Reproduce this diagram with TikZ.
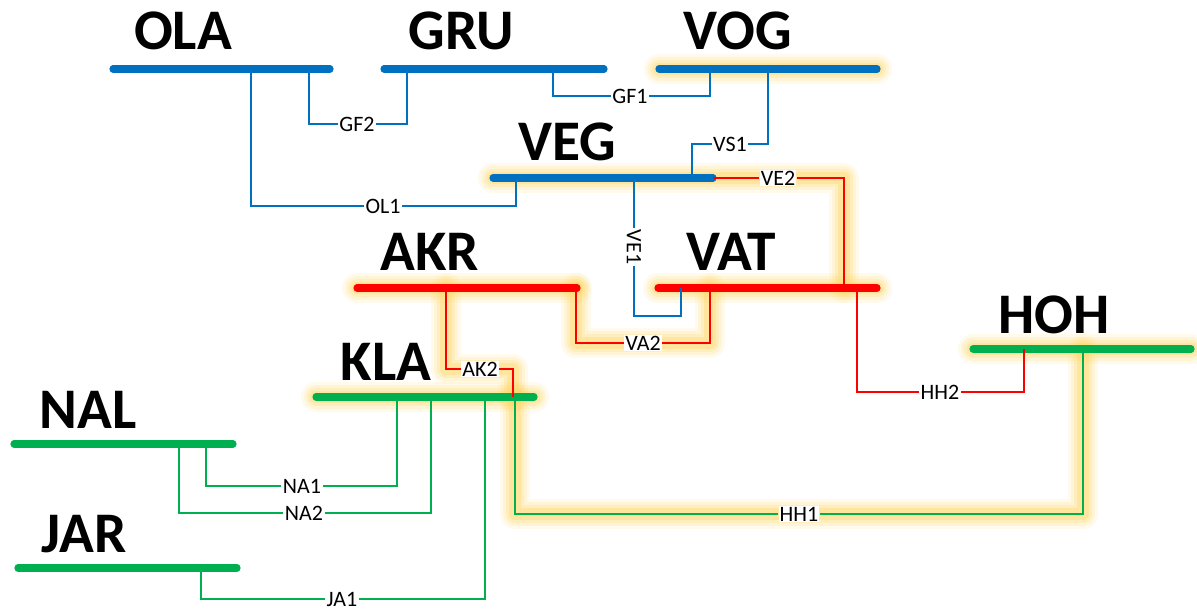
\documentclass[tikz,border=0pt]{standalone}
\usepackage{fontspec}
\setmainfont{Carlito}
\usetikzlibrary{backgrounds}
\definecolor{busblue}{RGB}{0,112,192}
\definecolor{busred}{RGB}{255,0,0}
\definecolor{busgreen}{RGB}{0,176,80}
\definecolor{glowyellow}{RGB}{255,214,100}

\begin{document}
\begin{tikzpicture}[
    x=0.5pt, y=-0.5pt,
    bus/.style={line width=3.6pt, line cap=round},
    link/.style={line width=1.15pt},
    busname/.style={font=\fontsize{28.7}{30}\selectfont\bfseries, anchor=base, inner sep=0pt},
    tag/.style={font=\fontsize{11}{12}\selectfont, fill=white, inner sep=0.6pt},
    glow/.style={line cap=round, line join=round, draw=glowyellow, draw opacity=0.35, line width=6pt,
      preaction={draw=glowyellow, draw opacity=0.12, line width=15pt, line cap=round, line join=round},
      preaction={draw=glowyellow, draw opacity=0.16, line width=12pt, line cap=round, line join=round},
      preaction={draw=glowyellow, draw opacity=0.22, line width=9pt, line cap=round, line join=round}}
]
\useasboundingbox (0,0) rectangle (1197,610);

\node[busname] (ola) at (183,50) {OLA};
\node[busname] (gru) at (461,50) {GRU};
\node[busname] (vog) at (738,50) {VOG};
\node[busname] (veg) at (567,160) {VEG};
\node[busname] (akr) at (430,270) {AKR};
\node[busname] (vat) at (731,270) {VAT};
\node[busname] (hoh) at (1054,333) {HOH};
\node[busname] (kla) at (386,380) {KLA};
\node[busname] (nal) at (88,428) {NAL};
\node[busname] (jar) at (84,552) {JAR};

\draw[bus, busblue] (113,69) coordinate (ola-w) -- (330,69) coordinate (ola-e);
\draw[bus, busblue] (384,69) coordinate (gru-w) -- (604,69) coordinate (gru-e);
\draw[bus, busblue] (659,69) coordinate (vog-w) -- (877,69) coordinate (vog-e);
\draw[bus, busblue] (493,178) coordinate (veg-w) -- (713,178) coordinate (veg-e);
\draw[bus, busred] (357,288) coordinate (akr-w) -- (577,288) coordinate (akr-e);
\draw[bus, busred] (658,288) coordinate (vat-w) -- (877,288) coordinate (vat-e);
\draw[bus, busgreen] (973,349) coordinate (hoh-w) -- (1191,349) coordinate (hoh-e);
\draw[bus, busgreen] (316,397) coordinate (kla-w) -- (534,397) coordinate (kla-e);
\draw[bus, busgreen] (14,444) coordinate (nal-w) -- (233,444) coordinate (nal-e);
\draw[bus, busgreen] (18,568) coordinate (jar-w) -- (237,568) coordinate (jar-e);

\coordinate (ola-t1) at (251,69);
\coordinate (ola-t2) at (309,69);
\coordinate (gru-t1) at (407,69);
\coordinate (gru-t2) at (553,69);
\coordinate (vog-t1) at (710,69);
\coordinate (vog-t2) at (768,69);
\coordinate (veg-t1) at (516,178);
\coordinate (veg-t2) at (634,178);
\coordinate (veg-t3) at (692,178);
\coordinate (akr-t1) at (446,288);
\coordinate (akr-t2) at (576,288);
\coordinate (vat-t1) at (681,288);
\coordinate (vat-t2) at (710,288);
\coordinate (vat-t3) at (844,288);
\coordinate (vat-t4) at (857,288);
\coordinate (hoh-t1) at (1024,349);
\coordinate (hoh-t2) at (1083,349);
\coordinate (kla-t1) at (397,397);
\coordinate (kla-t2) at (431,397);
\coordinate (kla-t3) at (485,397);
\coordinate (kla-t4) at (515,397);
\coordinate (kla-t5) at (513,397);
\coordinate (nal-t1) at (179,444);
\coordinate (nal-t2) at (206,444);
\coordinate (jar-t1) at (201,568);
\coordinate (ve1-k) at (634,316);

\node[tag] (gf2) at (357,124) {GF2};
\node[tag] (gf1) at (630,96) {GF1};
\node[tag] (ol1) at (383,206) {OL1};
\node[tag] (vs1) at (730,144) {VS1};
\node[tag, rotate=-90] (ve1) at (634,247) {VE1};
\node[tag] (ve2) at (778,178) {VE2};
\node[tag] (va2) at (643,343) {VA2};
\node[tag] (ak2) at (480,369) {AK2};
\node[tag] (hh2) at (940,392) {HH2};
\node[tag] (hh1) at (799,514) {HH1};
\node[tag] (na1) at (302,486) {NA1};
\node[tag] (na2) at (304,513) {NA2};
\node[tag] (ja1) at (342,599) {JA1};

\draw[link, busblue] (ola-t2) |- (gf2) -| (gru-t1);
\draw[link, busblue] (gru-t2) |- (gf1) -| (vog-t1);
\draw[link, busblue] (ola-t1) |- (ol1) -| (veg-t1);
\draw[link, busblue] (vog-t2) |- (vs1) -| (veg-t3);
\draw[link, busblue] (veg-t2) -- (ve1) -- (ve1-k) -| (vat-t1);
\draw[link, busred] (veg-e) -- (ve2) -| (vat-t3);
\draw[link, busred] (akr-t2) |- (va2) -| (vat-t2);
\draw[link, busred] (akr-t1) |- (ak2) -| (kla-t5);
\draw[link, busred] (vat-t4) |- (hh2) -| (hoh-t1);
\draw[link, busgreen] (kla-t4) |- (hh1) -| (hoh-t2);
\draw[link, busgreen] (kla-t1) |- (na1) -| (nal-t2);
\draw[link, busgreen] (kla-t2) |- (na2) -| (nal-t1);
\draw[link, busgreen] (kla-t3) |- (ja1) -| (jar-t1);

\begin{scope}[on background layer]
\draw[glow] (vog-w) -- (vog-e);
\draw[glow] (veg-w) -- (veg-e) -- (ve2.center) -| (vat-t3);
\draw[glow] (akr-w) -- (akr-e);
\draw[glow] (vat-w) -- (vat-e);
\draw[glow] (akr-t2) |- (va2.center) -| (vat-t2);
\draw[glow] (akr-t1) |- (ak2.center) -| (kla-t5);
\draw[glow] (kla-w) -- (kla-e);
\draw[glow] (kla-t4) |- (hh1.center) -| (hoh-t2);
\draw[glow] (hoh-w) -- (hoh-e);
\end{scope}
\end{tikzpicture}
\end{document}
